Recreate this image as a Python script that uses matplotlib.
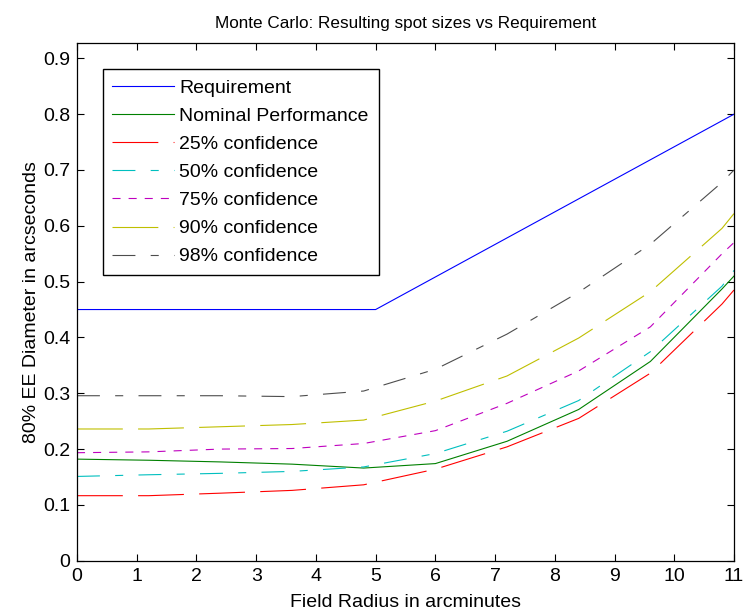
import matplotlib
matplotlib.use("Agg")
import matplotlib.pyplot as plt

plt.rcParams["font.family"] = ["Liberation Sans", "DejaVu Sans"]
plt.rcParams["lines.scale_dashes"] = False

# field radius samples (arcmin)
radius = [0, 1.2, 2.4, 3.6, 4.8, 6.0, 7.2, 8.4, 9.6, 10.8, 11]

req_radius = [0, 5, 11]
requirement = [0.45, 0.45, 0.80]

nominal = [0.182, 0.180, 0.177, 0.173, 0.166, 0.174, 0.214, 0.271, 0.357, 0.487, 0.510]
conf_25 = [0.1165, 0.1165, 0.121, 0.126, 0.136, 0.164, 0.204, 0.255, 0.336, 0.460, 0.485]
conf_50 = [0.151, 0.154, 0.1565, 0.160, 0.168, 0.192, 0.232, 0.287, 0.3745, 0.492, 0.520]
conf_75 = [0.1935, 0.195, 0.200, 0.201, 0.210, 0.233, 0.282, 0.340, 0.419, 0.550, 0.570]
conf_90 = [0.236, 0.236, 0.240, 0.244, 0.252, 0.286, 0.331, 0.399, 0.482, 0.5955, 0.622]
conf_98 = [0.2956, 0.2956, 0.2956, 0.294, 0.304, 0.343, 0.406, 0.481, 0.567, 0.678, 0.700]

labels = ["Requirement", "Nominal Performance", "25% confidence", "50% confidence",
          "75% confidence", "90% confidence", "98% confidence"]
xticks = list(range(0, 12))
yticks = [0, 0.1, 0.2, 0.3, 0.4, 0.5, 0.6, 0.7, 0.8, 0.9]

long_dash = (0, (33, 11))
dash_dot = (0, (16.5, 11, 5.8, 11))
short_dash = (0, (5.8, 5.8))

fs = 14

fig = plt.figure(figsize=(7.43, 6.11), dpi=100)
ax = fig.add_axes([0.1036, 0.0823, 0.8843, 0.8473])

lw = 0.8
ax.plot(req_radius, requirement, color=(0, 0, 1), lw=lw, label=labels[0])
ax.plot(radius, nominal, color=(0, 0.5, 0), lw=lw, label=labels[1])
ax.plot(radius, conf_25, color=(1, 0, 0), lw=lw, linestyle=long_dash, label=labels[2])
ax.plot(radius, conf_50, color=(0, 0.75, 0.75), lw=lw, linestyle=dash_dot, label=labels[3])
ax.plot(radius, conf_75, color=(0.75, 0, 0.75), lw=lw, linestyle=short_dash, label=labels[4])
ax.plot(radius, conf_90, color=(0.75, 0.75, 0), lw=lw, linestyle=long_dash, label=labels[5])
ax.plot(radius, conf_98, color=(0.3, 0.3, 0.3), lw=lw, linestyle=dash_dot, label=labels[6])

ax.set_xlim(0, 11)
ax.set_ylim(0, 0.9275)
ax.set_xticks(xticks)
ax.set_yticks(yticks)
ax.set_yticklabels(["0"] + [f"{v:.1f}" for v in yticks[1:]])
ax.tick_params(direction="in", length=5, width=0.8, top=True, right=True,
               labelsize=fs, pad=5)
for s in ax.spines.values():
    s.set_linewidth(0.9)

ax.set_title("Monte Carlo: Resulting spot sizes vs Requirement", fontsize=12.3, pad=11)
ax.set_xlabel("Field Radius in arcminutes", fontsize=fs, labelpad=6.5)
ax.set_ylabel("80% EE Diameter in arcseconds", fontsize=fs, labelpad=2)

leg = ax.legend(loc="upper left", bbox_to_anchor=(0.039, 0.949), borderaxespad=0,
                fontsize=fs, frameon=True, fancybox=False, framealpha=1,
                edgecolor="black", handlelength=3.15, handletextpad=0.3,
                labelspacing=0.54, borderpad=0.5)
leg.get_frame().set_linewidth(1.0)

fig.savefig("out.png", dpi=100)
